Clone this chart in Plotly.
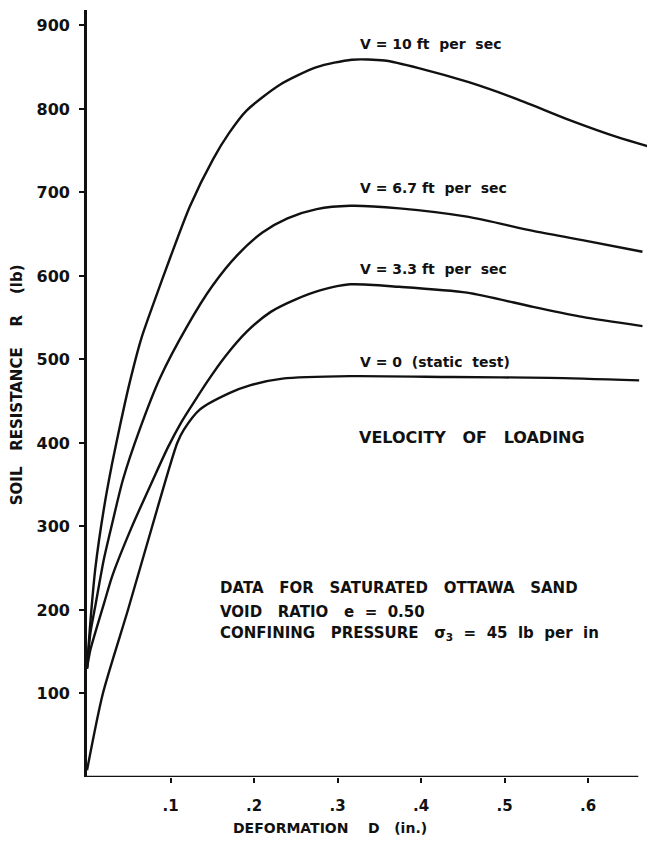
import plotly.graph_objects as go

# Deformation D (in.) and soil resistance R (lb)
d_v10 = [0, 0.004, 0.010, 0.020, 0.030, 0.040, 0.051, 0.065, 0.080, 0.100, 0.123, 0.151,
         0.170, 0.191, 0.231, 0.275, 0.317, 0.356, 0.397, 0.457, 0.517, 0.577, 0.636, 0.68]
r_v10 = [130, 185, 250, 320, 375, 423, 472, 525, 568, 623, 683, 740,
         771, 798, 829, 850, 859, 858, 849, 832, 811, 787, 766, 753]

d_v67 = [0, 0.004, 0.010, 0.020, 0.030, 0.043, 0.063, 0.087, 0.120, 0.150, 0.180, 0.210,
         0.240, 0.275, 0.315, 0.374, 0.455, 0.534, 0.593, 0.665]
r_v67 = [130, 172, 205, 260, 303, 356, 416, 477, 540, 588, 625, 652,
         669, 680, 684, 681, 671, 654, 643, 629]

d_v33 = [0, 0.004, 0.012, 0.021, 0.030, 0.053, 0.079, 0.097, 0.113, 0.130, 0.145, 0.165,
         0.191, 0.220, 0.250, 0.280, 0.315, 0.374, 0.455, 0.534, 0.593, 0.665]
r_v33 = [130, 152, 180, 210, 240, 298, 356, 395, 425, 452, 475, 503,
         533, 557, 572, 583, 590, 587, 580, 563, 551, 540]

d_v0 = [0, 0.019, 0.049, 0.078, 0.108, 0.116, 0.135, 0.171, 0.195, 0.234, 0.315, 0.437, 0.554, 0.661]
r_v0 = [8, 100, 200, 300, 400, 416, 440, 460, 469, 477, 480, 479, 478, 475]

y_ticks = [100, 200, 300, 400, 500, 600, 700, 800, 900]
y_ticktext = ["100", "200", "300", "400", "500", "600", "700", "800", "900"]
x_ticks = [0.1, 0.2, 0.3, 0.4, 0.5, 0.6]
x_ticktext = [".1", ".2", ".3", ".4", ".5", ".6"]

curve_labels = ["V = 10 ft  per  sec", "V = 6.7 ft  per  sec", "V = 3.3 ft  per  sec", "V = 0  (static  test)"]

FONT = "DejaVu Sans"
INK = "#111111"

fig = go.Figure()
for dd, rr in [(d_v10, r_v10), (d_v67, r_v67), (d_v33, r_v33), (d_v0, r_v0)]:
    fig.add_trace(go.Scatter(x=dd, y=rr, mode="lines",
                             line=dict(color=INK, width=2.4, shape="spline", smoothing=0.7),
                             showlegend=False, hoverinfo="skip"))

# curve labels
label_pos = [(0.324, 878), (0.324, 705), (0.324, 608), (0.324, 497)]
for txt, (lx, ly) in zip(curve_labels, label_pos):
    fig.add_annotation(x=lx, y=ly, xref="x", yref="y", text="<b>" + txt + "</b>",
                       showarrow=False, xanchor="left", yanchor="middle",
                       font=dict(family=FONT, size=14, color=INK))

fig.add_annotation(x=0.323, y=407, xref="x", yref="y", text="<b>VELOCITY   OF   LOADING</b>",
                   showarrow=False, xanchor="left", yanchor="middle",
                   font=dict(family=FONT, size=16, color=INK))

block = ["DATA   FOR   SATURATED   OTTAWA   SAND",
         "VOID   RATIO   e  =  0.50",
         "CONFINING   PRESSURE   σ<sub>3</sub>  =  45  lb  per  in"]
for txt, ly in zip(block, [226, 198, 172]):
    fig.add_annotation(x=0.157, y=ly, xref="x", yref="y", text="<b>" + txt + "</b>",
                       showarrow=False, xanchor="left", yanchor="middle",
                       font=dict(family=FONT, size=15, color=INK))

# axis titles
fig.add_annotation(x=0.291, y=-0.0665, xref="x", yref="paper",
                   text="<b>DEFORMATION    D   (in.)</b>", showarrow=False,
                   xanchor="center", yanchor="middle",
                   font=dict(family=FONT, size=14, color=INK))
fig.add_annotation(x=-0.123, y=0.511, xref="paper", yref="paper",
                   text="<b>SOIL   RESISTANCE    R    (lb)</b>", showarrow=False, textangle=-90,
                   xanchor="center", yanchor="middle",
                   font=dict(family=FONT, size=15, color=INK))

# x axis baseline (ends short of the right edge as in the reference)
fig.add_shape(type="line", xref="x", yref="y", x0=0, x1=0.66, y0=0, y1=0,
              line=dict(color=INK, width=2.6))

# the page body adds an 8 px offset, so the figure is sized to fit the window
fig.update_layout(
    width=647, height=833,
    margin=dict(l=79, r=0, t=2, b=64),
    paper_bgcolor="white", plot_bgcolor="white",
    font=dict(family=FONT, color=INK),
    xaxis=dict(range=[0, 0.68], showgrid=False, zeroline=False, showline=False,
               tickvals=x_ticks, ticktext=x_ticktext, ticks="outside", ticklen=5,
               tickwidth=2, tickcolor=INK, ticklabelstandoff=10,
               tickfont=dict(family=FONT, size=15, color=INK, weight="bold")),
    yaxis=dict(range=[0, 918.5], showgrid=False, zeroline=False, showline=True,
               linecolor=INK, linewidth=2.6,
               tickvals=y_ticks, ticktext=y_ticktext, ticks="outside", ticklen=5,
               tickwidth=2, tickcolor=INK, ticklabelstandoff=6,
               tickfont=dict(family=FONT, size=16, color=INK, weight="bold")),
)

fig.write_html("out.html")
